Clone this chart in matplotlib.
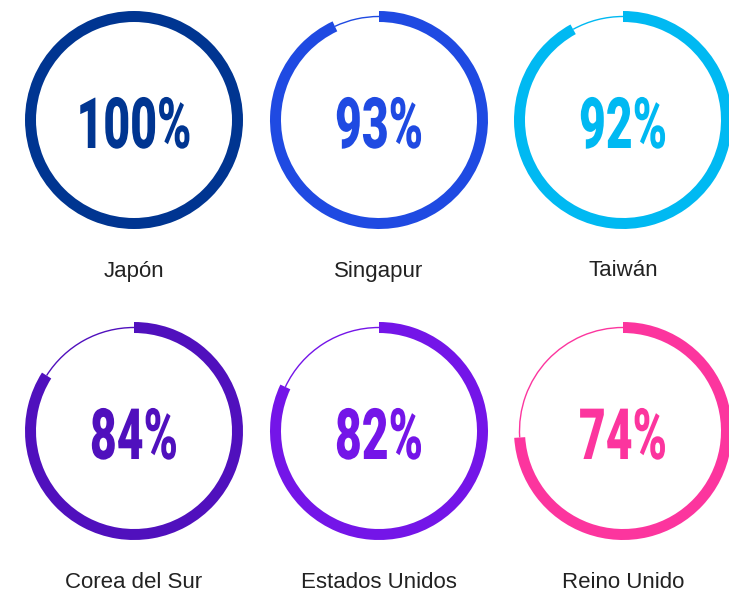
import matplotlib
matplotlib.use("Agg")
import matplotlib.pyplot as plt
from matplotlib.patches import Wedge, Arc
from matplotlib.patheffects import AbstractPathEffect
from matplotlib.transforms import Affine2D

# Data
countries = ['Japón', 'Singapur', 'Taiwán', 'Corea del Sur', 'Estados Unidos', 'Reino Unido']
values = [100, 93, 92, 84, 82, 74]
colors = ['#003591', '#1F4AE2', '#00B9F2', '#5010BD', '#7415E8', '#FC359E']


class Squeeze(AbstractPathEffect):
    # narrows the glyphs horizontally around x0 (display coords)
    def __init__(self, sx, x0):
        super().__init__()
        self.sx = sx
        self.x0 = x0

    def draw_path(self, renderer, gc, tpath, affine, rgbFace=None):
        t = affine + Affine2D().translate(-self.x0, 0).scale(self.sx, 1).translate(self.x0, 0)
        renderer.draw_path(gc, tpath, t, rgbFace)


W, H = 729, 593
fig = plt.figure(figsize=(W / 100, H / 100), dpi=100)
ax = fig.add_axes([0, 0, 1, 1])
ax.set_xlim(0, W)
ax.set_ylim(0, H)
ax.set_aspect('equal')
ax.axis('off')

col_x = [134, 379, 623]
row_y = [120, 431]   # pixel rows from top
r_out = 109
band = 11

pct_texts = []
for i, (name, val, c) in enumerate(zip(countries, values, colors)):
    cx = col_x[i % 3]
    cy = H - row_y[i // 3]
    frac = val / 100.0
    # thick arc, clockwise from 12 o'clock
    ax.add_patch(Wedge((cx, cy), r_out, 90 - frac * 360, 90, width=band,
                       facecolor=c, edgecolor='none'))
    # thin remainder
    if frac < 1:
        ax.add_patch(Arc((cx, cy), 2 * (r_out - band / 2), 2 * (r_out - band / 2),
                         theta1=90, theta2=90 + (1 - frac) * 360,
                         color=c, linewidth=1))
    t = ax.text(cx, cy - 28, f'{val}%', ha='center', va='baseline', color=c,
                fontsize=51, fontweight='black', family=['Roboto', 'DejaVu Sans'])
    pct_texts.append((t, cx, cy))
    ax.text(cx, cy - 156.5, name, ha='center', va='baseline', color='#222222',
            fontsize=16, family=['Liberation Sans', 'DejaVu Sans'])

# squeeze the big numbers so they look like a condensed face
fig.canvas.draw()
r = fig.canvas.get_renderer()
w100 = pct_texts[0][0].get_window_extent(r).width
sx = 115.0 / w100
for t, cx, cy in pct_texts:
    x0 = ax.transData.transform((cx, cy))[0]
    t.set_path_effects([Squeeze(sx, x0)])

fig.savefig('out.png', dpi=100)
